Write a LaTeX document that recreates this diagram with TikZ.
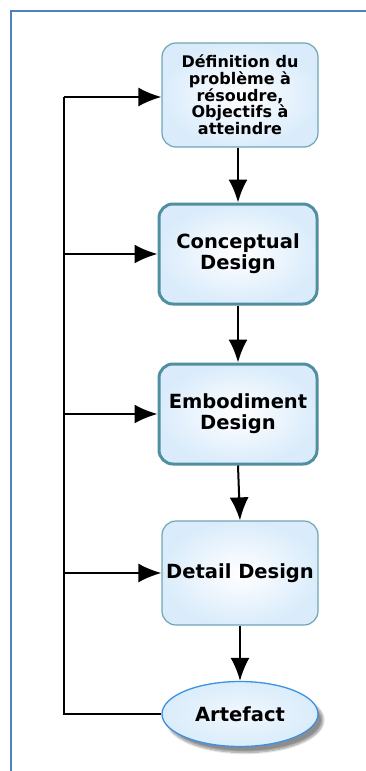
\documentclass[tikz,border=0pt]{standalone}
\usepackage{fontspec}
\setmainfont{DejaVu Sans}
\usetikzlibrary{arrows.meta,shapes.geometric,shadows.blur}
\definecolor{frameblue}{RGB}{79,129,189}
\definecolor{boxedge}{RGB}{110,165,182}
\definecolor{boxedgeb}{RGB}{80,143,160}
\definecolor{boxfill}{RGB}{218,236,251}
\definecolor{ovaledge}{RGB}{60,145,225}
\tikzset{
  stepbox/.style={rectangle, rounded corners=14pt, draw=boxedge, line width=1.2pt,
    inner color=white, outer color=boxfill, minimum width=156pt,
    minimum height=104pt, align=center, font=\bfseries\fontsize{19.5}{21}\selectfont},
  keybox/.style={stepbox, draw=boxedgeb, line width=3pt, minimum width=158pt, minimum height=100pt},
  oval/.style={ellipse, draw=ovaledge, line width=1.3pt, inner color=white!60!boxfill,
    outer color=boxfill, minimum width=156pt, minimum height=65pt,
    font=\bfseries\fontsize{19.5}{21}\selectfont,
    blur shadow={shadow xshift=5pt, shadow yshift=-6pt, shadow blur steps=10, shadow opacity=45}},
  flow/.style={line width=2pt, -{Latex[length=23pt,width=19pt]}},
  link/.style={line width=2pt}
}
\begin{document}
\begin{tikzpicture}[x=1pt,y=-1pt]
  \useasboundingbox (0,0) rectangle (366,771);
  % page frame
  \draw[frameblue, line width=2.2pt] (366,11) -- (11,11) -- (11,771);

  % process steps
  \node[stepbox, font=\bfseries\fontsize{16}{16.7}\selectfont] (def) at (240,95)
    {Définition du\\problème à\\résoudre,\\Objectifs à\\atteindre};
  \node[keybox] (con) at (238,254) {Conceptual\\Design};
  \node[keybox] (emb) at (238,414) {Embodiment\\Design};
  \node[stepbox] (det) at (240,573) {Detail Design};
  \node[oval] (art) at (240,714) {Artefact};

  % main flow
  \draw[flow] (def.south -| con.north) -- (con.north);
  \draw[flow] (con.south) -- (emb.north);
  \draw[flow] (emb.south) -- (det.north);
  \draw[flow] (det.south) -- (art.north);

  % feedback rail
  \coordinate (rail) at (64,97);
  \draw[link] (art.west) -- (art.west -| rail) -- (rail);
  \draw[flow] (rail) -- (rail -| def.west);
  \draw[flow] (rail |- con.west) -- (con.west);
  \draw[flow] (rail |- emb.west) -- (emb.west);
  \draw[flow] (rail |- det.west) -- (det.west);
\end{tikzpicture}
\end{document}
